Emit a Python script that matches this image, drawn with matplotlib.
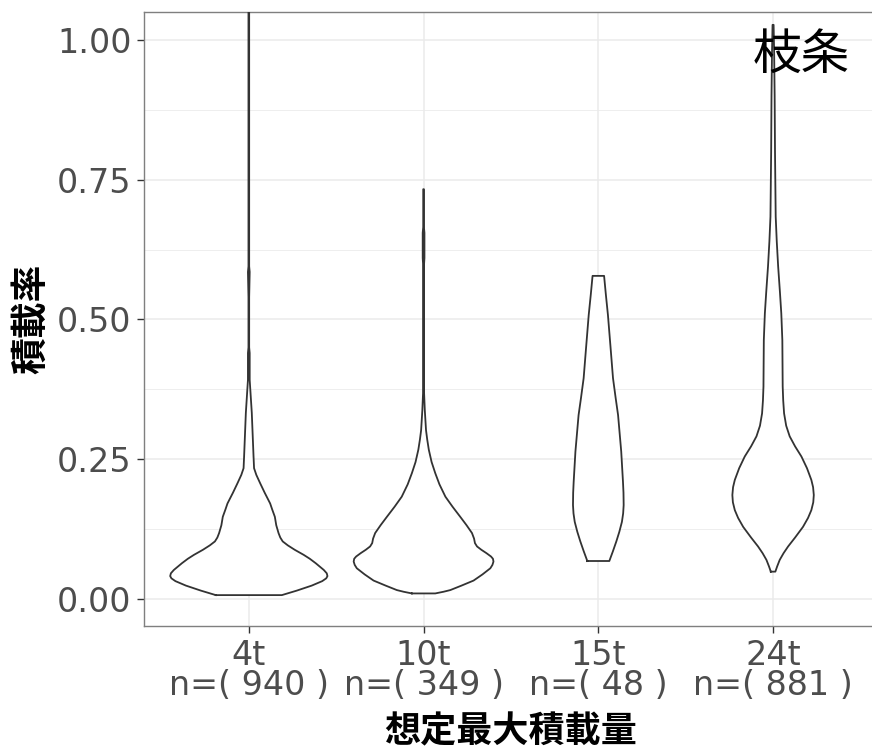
import matplotlib
matplotlib.use('Agg')
import matplotlib.pyplot as plt
from matplotlib.ticker import MultipleLocator

categories = ['4t', '10t', '15t', '24t']
counts = [940, 349, 48, 881]

# violin outlines: y value and half width (in category units)
y_4t = [0.007, 0.015, 0.024, 0.032, 0.037, 0.041, 0.046, 0.052, 0.064, 0.072,
        0.079, 0.088, 0.096, 0.103, 0.110, 0.118, 0.132, 0.147, 0.160, 0.171,
        0.190, 0.207, 0.222, 0.234, 0.255, 0.333, 0.392, 0.40, 0.44, 0.45,
        0.54, 0.585, 0.595, 1.06]
w_4t = [0.189, 0.274, 0.360, 0.420, 0.443, 0.450, 0.446, 0.429, 0.383, 0.349,
        0.314, 0.263, 0.223, 0.194, 0.180, 0.170, 0.157, 0.149, 0.134, 0.122,
        0.091, 0.065, 0.043, 0.030, 0.027, 0.017, 0.005, 0.005, 0.005, 0.002,
        0.002, 0.005, 0.002, 0.002]

y_10t = [0.010, 0.013, 0.016, 0.024, 0.033, 0.044, 0.055, 0.061, 0.067, 0.072,
         0.076, 0.082, 0.088, 0.094, 0.100, 0.108, 0.118, 0.132, 0.147, 0.165,
         0.183, 0.205, 0.225, 0.245, 0.267, 0.285, 0.302, 0.338, 0.368, 0.60,
         0.61, 0.655, 0.665, 0.733]
w_10t = [0.067, 0.114, 0.153, 0.217, 0.286, 0.337, 0.382, 0.394, 0.400, 0.397,
         0.386, 0.360, 0.331, 0.306, 0.294, 0.289, 0.277, 0.246, 0.210, 0.166,
         0.125, 0.091, 0.067, 0.046, 0.030, 0.021, 0.014, 0.007, 0.003, 0.003,
         0.005, 0.005, 0.002, 0.002]

y_15t = [0.068, 0.085, 0.103, 0.120, 0.138, 0.153, 0.168, 0.190, 0.210, 0.264,
         0.329, 0.360, 0.395, 0.450, 0.508, 0.545, 0.578]
w_15t = [0.063, 0.083, 0.103, 0.120, 0.135, 0.142, 0.145, 0.144, 0.141, 0.131,
         0.113, 0.099, 0.084, 0.070, 0.055, 0.043, 0.033]

y_24t = [0.049, 0.058, 0.070, 0.082, 0.094, 0.110, 0.129, 0.145, 0.159, 0.173,
         0.186, 0.200, 0.213, 0.234, 0.255, 0.273, 0.291, 0.310, 0.332, 0.355,
         0.380, 0.463, 0.511, 0.550, 0.595, 0.640, 0.684, 0.80, 0.90, 0.98, 1.027]
w_24t = [0.013, 0.023, 0.038, 0.060, 0.086, 0.126, 0.171, 0.200, 0.219, 0.230,
         0.233, 0.229, 0.219, 0.194, 0.162, 0.126, 0.095, 0.075, 0.063, 0.058,
         0.055, 0.053, 0.047, 0.039, 0.029, 0.021, 0.015, 0.011, 0.009, 0.006, 0.003]

profiles = [(y_4t, w_4t), (y_10t, w_10t), (y_15t, w_15t), (y_24t, w_24t)]

cjk = ['Noto Sans CJK JP', 'DejaVu Sans']
tick_font = 'DejaVu Sans'

fig = plt.figure(figsize=(8.72, 7.5), dpi=100)
ax = fig.add_axes([0.1651, 0.1653, 0.8417, 0.8187])

for i, (ys, ws) in enumerate(profiles):
    pos = i + 1
    left = [pos - w for w in ws]
    right = [pos + w for w in ws]
    ax.fill_betweenx(ys, left, right, facecolor='white', edgecolor='none', zorder=2)
    xs = left + right[::-1] + [left[0]]
    yy = ys + ys[::-1] + [ys[0]]
    ax.plot(xs, yy, color='#333333', lw=1.3, zorder=3, solid_joinstyle='round')

ax.set_xlim(0.4, 4.6)
ax.set_ylim(-0.0483, 1.050)

ax.set_xticks(range(1, len(categories) + 1))
ax.set_xticklabels([f'{c}\nn=( {n} )' for c, n in zip(categories, counts)],
                   fontsize=24, color='#4D4D4D', family=tick_font, linespacing=0.9)
ax.set_yticks([0, 0.25, 0.5, 0.75, 1.0])
ax.set_yticklabels(['0.00', '0.25', '0.50', '0.75', '1.00'],
                   fontsize=24, color='#4D4D4D', family=tick_font)
ax.yaxis.set_minor_locator(MultipleLocator(0.125))

ax.grid(which='major', color='#EBEBEB', lw=1.1, zorder=0)
ax.grid(which='minor', axis='y', color='#EBEBEB', lw=0.6, zorder=0)
ax.set_axisbelow(True)
ax.tick_params(which='major', length=5, width=1, color='#333333', pad=4)
ax.tick_params(which='minor', length=0)

for s in ax.spines.values():
    s.set_color('#7F7F7F')
    s.set_linewidth(1)

ax.set_xlabel('想定最大積載量', fontsize=26, family=cjk, fontweight='bold', labelpad=8)
ax.set_ylabel('積載率', fontsize=26.5, family=cjk, fontweight='bold', labelpad=4.5)

ax.text(4.16, 0.972, '枝条', fontsize=35, family=cjk, ha='center', va='center', zorder=4)

fig.savefig('out.png', dpi=100)
